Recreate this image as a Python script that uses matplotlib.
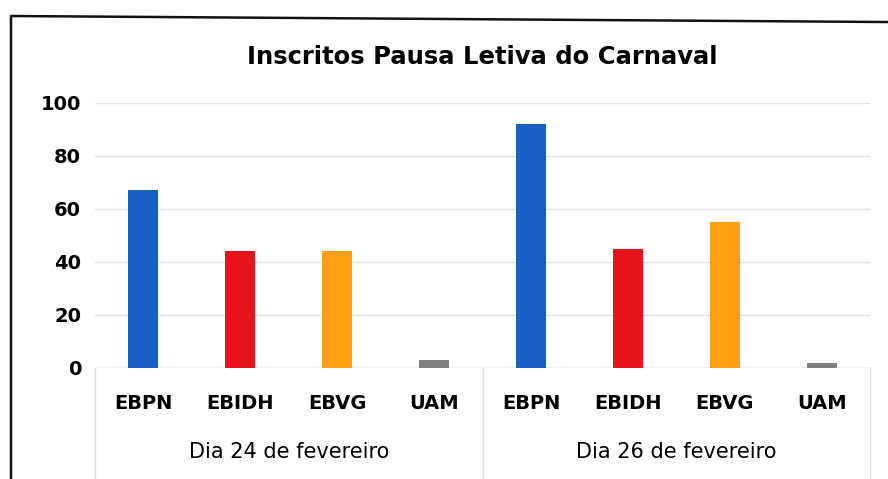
import matplotlib
matplotlib.use("Agg")
import matplotlib.pyplot as plt
from matplotlib.lines import Line2D
import matplotlib.transforms as mtransforms

title = "Inscritos Pausa Letiva do Carnaval"
schools = ["EBPN", "EBIDH", "EBVG", "UAM"]
days = ["Dia 24 de fevereiro", "Dia 26 de fevereiro"]
day24 = [67, 44, 44, 3]
day26 = [92, 45, 55, 2]
colors = ["#1a5fc4", "#e8141c", "#ff9f12", "#808080"]

values = day24 + day26
labels = schools + schools
bar_colors = colors + colors
xs = list(range(len(values)))

fig = plt.figure(figsize=(8.88, 4.79), dpi=100)
ax = fig.add_axes([0.107, 0.232, 0.873, 0.553])

ax.bar(xs, values, width=0.31, color=bar_colors, zorder=3)

ax.set_xlim(-0.5, len(values) - 0.5)
ax.set_ylim(0, 100)
ax.set_yticks(range(0, 101, 20))
ax.set_xticks(xs)
ax.set_xticklabels(labels, fontsize=14, fontweight="bold")
ax.tick_params(axis="x", length=0, pad=19)
ax.tick_params(axis="y", length=0, pad=10, labelsize=14)
for t in ax.get_yticklabels():
    t.set_fontweight("bold")

ax.grid(axis="y", color="#e3e3e3", linewidth=1, zorder=0)
for s in ax.spines.values():
    s.set_visible(False)
ax.axhline(0, color="#d0d0d0", linewidth=1, zorder=2)

# group labels and dividers under the category axis
trans = mtransforms.blended_transform_factory(ax.transData, ax.transAxes)
n = len(schools)
for i, day in enumerate(days):
    center = i * n + (n - 1) / 2
    ax.text(center, -0.317, day, transform=trans, ha="center", va="center",
            fontsize=15)
for xd in [-0.5, n - 0.5, 2 * n - 0.5]:
    ax.plot([xd, xd], [0, -0.42], transform=trans, color="#dcdcdc",
            linewidth=1, clip_on=False)

ax.set_title(title, fontsize=17.5, fontweight="bold", pad=28)

# scanned frame around the chart
fig.add_artist(Line2D([0.0124, 0.0124, 1.0], [0.0, 0.9666, 0.954],
                      transform=fig.transFigure, color="#111111", linewidth=1.8))

fig.savefig("out.png", dpi=100)
